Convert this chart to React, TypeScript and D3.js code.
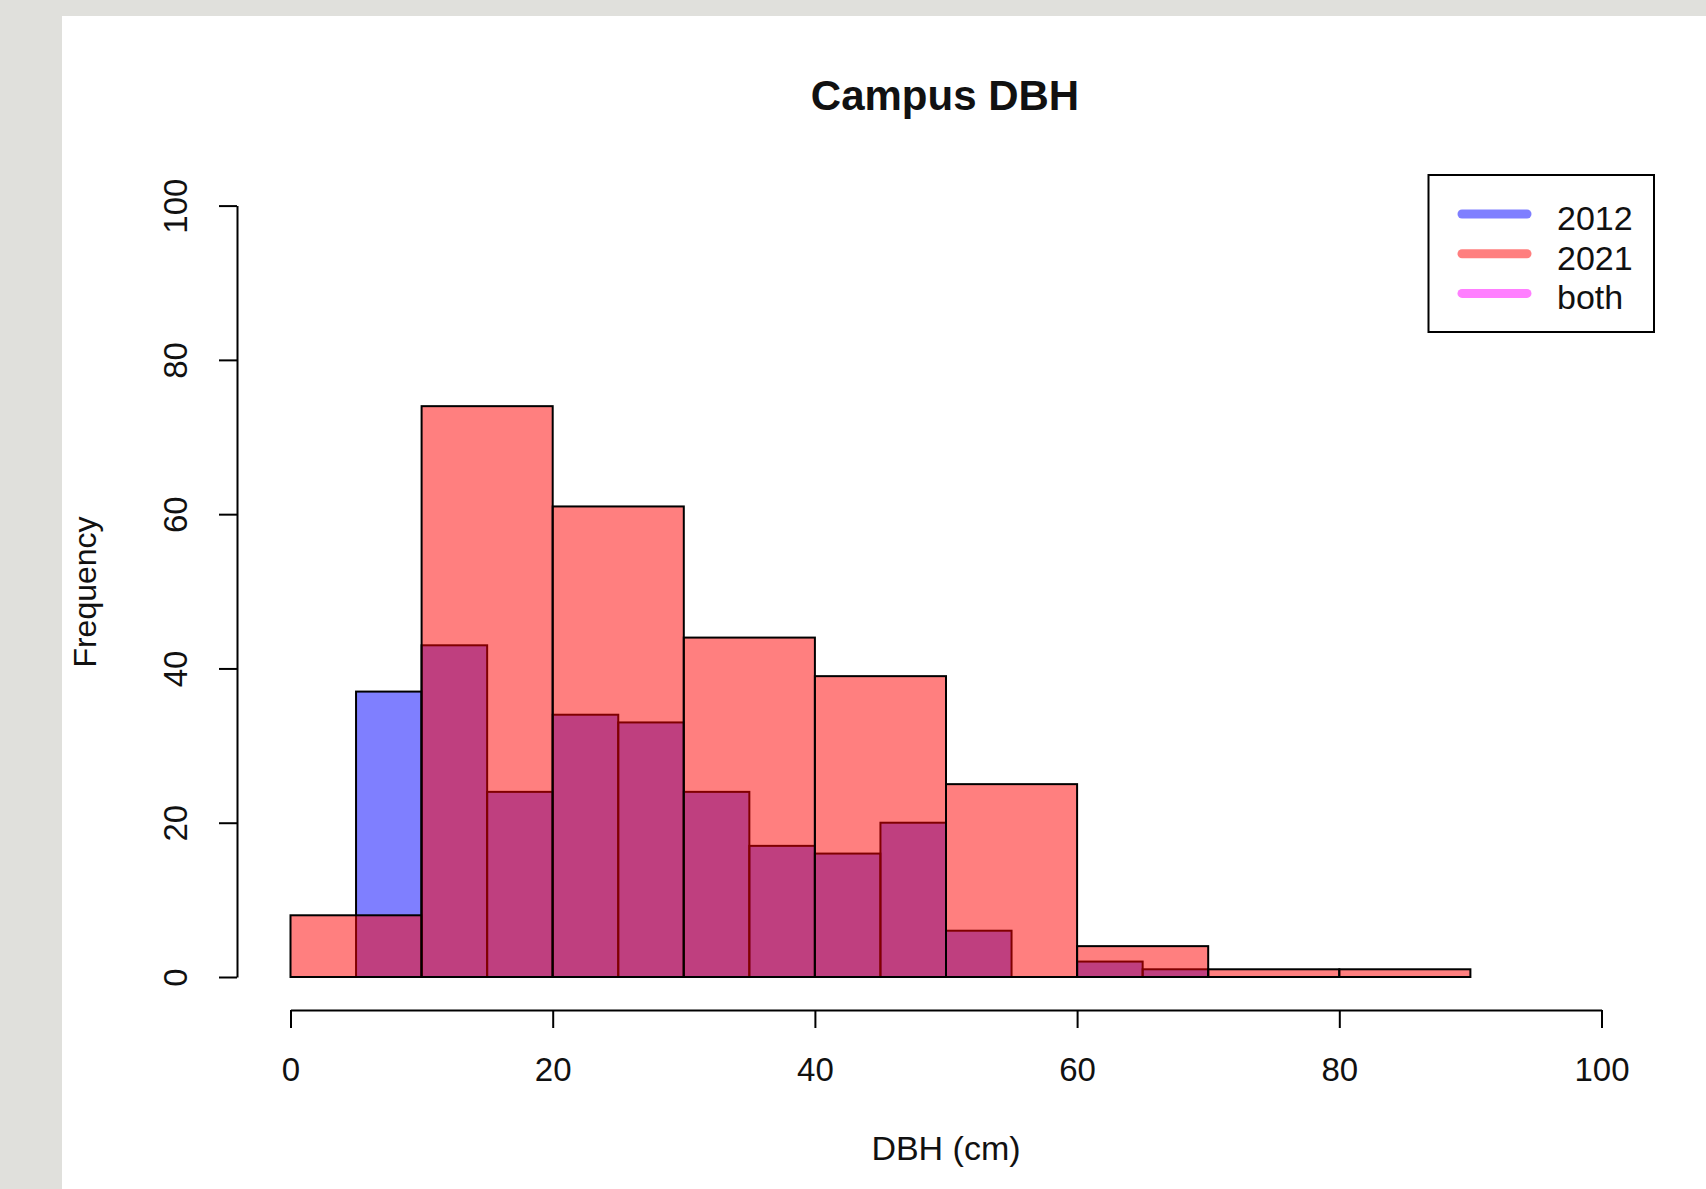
import React, { useRef, useEffect } from "react";
import * as d3 from "d3";

// histogram data
const breaks2012 = [0, 5, 10, 15, 20, 25, 30, 35, 40, 45, 50, 55, 60, 65, 70];
const counts2012 = [0, 37, 43, 24, 34, 33, 24, 17, 16, 20, 6, 0, 2, 1];
const breaks2021 = [0, 10, 20, 30, 40, 50, 60, 70, 80, 90];
const counts2021 = [8, 74, 61, 44, 39, 25, 4, 1, 1];

const xTicks = [0, 20, 40, 60, 80, 100];
const yTicks = [0, 20, 40, 60, 80, 100];

const legendLabels = ["2012", "2021", "both"];
const legendColors = ["rgba(0,0,255,0.5)", "rgba(255,0,0,0.5)", "rgba(255,0,255,0.5)"];

const FONT = "'Liberation Sans', Arial, Helvetica, sans-serif";

const App = () => {
  const svgRef = useRef(null);
  const width = 1706;
  const height = 1189;

  useEffect(() => {
    const svg = d3.select(svgRef.current);
    svg.selectAll("*").remove();

    // page background + white panel
    svg.append("rect").attr("width", width).attr("height", height).attr("fill", "#e0e0dc");
    svg.append("rect").attr("x", 62).attr("y", 16).attr("width", width - 62).attr("height", height - 16).attr("fill", "#ffffff");

    const x = d3.scaleLinear().domain([0, 100]).range([290.5, 1601.5]);
    const y = d3.scaleLinear().domain([0, 100]).range([977, 205.6]);

    const toBins = (breaks, counts) =>
      counts.map((c, i) => ({ x0: breaks[i], x1: breaks[i + 1], count: c }));

    const drawHist = (bins, fill) => {
      svg
        .append("g")
        .selectAll("rect")
        .data(bins.filter((d) => d.count > 0))
        .enter()
        .append("rect")
        .attr("x", (d) => x(d.x0))
        .attr("y", (d) => y(d.count))
        .attr("width", (d) => x(d.x1) - x(d.x0))
        .attr("height", (d) => y(0) - y(d.count))
        .attr("fill", fill)
        .attr("stroke", "#000")
        .attr("stroke-width", 2);
    };

    // 2012 first, 2021 drawn over it (overlap turns purple)
    drawHist(toBins(breaks2012, counts2012), "rgba(0,0,255,0.5)");
    drawHist(toBins(breaks2021, counts2021), "rgba(255,0,0,0.5)");

    // x axis
    const xAxis = svg
      .append("g")
      .attr("transform", "translate(0,1010)")
      .call(d3.axisBottom(x).tickValues(xTicks).tickSize(18).tickSizeOuter(0).tickPadding(30));
    xAxis.select(".domain").attr("stroke", "#000").attr("stroke-width", 2);
    xAxis.selectAll(".tick line").attr("stroke", "#000").attr("stroke-width", 2);
    xAxis
      .selectAll(".tick text")
      .attr("fill", "#111")
      .style("font", `33px ${FONT}`);

    // y axis
    const yAxis = svg
      .append("g")
      .attr("transform", "translate(237,0)")
      .call(d3.axisLeft(y).tickValues(yTicks).tickSize(18).tickSizeOuter(0));
    yAxis.select(".domain").attr("stroke", "#000").attr("stroke-width", 2);
    yAxis.selectAll(".tick line").attr("stroke", "#000").attr("stroke-width", 2);
    yAxis
      .selectAll(".tick text")
      .attr("x", null)
      .attr("dy", null)
      .attr("text-anchor", "middle")
      .attr("transform", "translate(-50,0) rotate(-90)")
      .attr("fill", "#111")
      .style("font", `33px ${FONT}`);

    // titles
    svg
      .append("text")
      .attr("x", 945)
      .attr("y", 110)
      .attr("text-anchor", "middle")
      .style("font", `bold 42px ${FONT}`)
      .attr("fill", "#111")
      .text("Campus DBH");

    svg
      .append("text")
      .attr("x", 946)
      .attr("y", 1160)
      .attr("text-anchor", "middle")
      .style("font", `34px ${FONT}`)
      .attr("fill", "#111")
      .text("DBH (cm)");

    svg
      .append("text")
      .attr("transform", "translate(96,592) rotate(-90)")
      .attr("text-anchor", "middle")
      .style("font", `32px ${FONT}`)
      .attr("fill", "#111")
      .text("Frequency");

    // legend
    const legend = svg.append("g");
    legend
      .append("rect")
      .attr("x", 1428.5)
      .attr("y", 175)
      .attr("width", 225.5)
      .attr("height", 157)
      .attr("fill", "#fff")
      .attr("stroke", "#000")
      .attr("stroke-width", 2);

    legend
      .selectAll("g")
      .data(legendLabels)
      .enter()
      .append("g")
      .attr("transform", (d, i) => `translate(0, ${214 + i * 39.7})`)
      .each(function (d, i) {
        d3.select(this)
          .append("line")
          .attr("x1", 1462)
          .attr("x2", 1527)
          .attr("stroke", legendColors[i])
          .attr("stroke-width", 9)
          .attr("stroke-linecap", "round");
        d3.select(this)
          .append("text")
          .attr("x", 1557)
          .attr("y", 16)
          .style("font", `34px ${FONT}`)
          .attr("fill", "#111")
          .text(d);
      });
  }, []);

  return (
    <div style={{ position: "absolute", left: 0, top: 0 }}>
      <svg ref={svgRef} width={width} height={height} style={{ display: "block" }}></svg>
    </div>
  );
};

export default App;
